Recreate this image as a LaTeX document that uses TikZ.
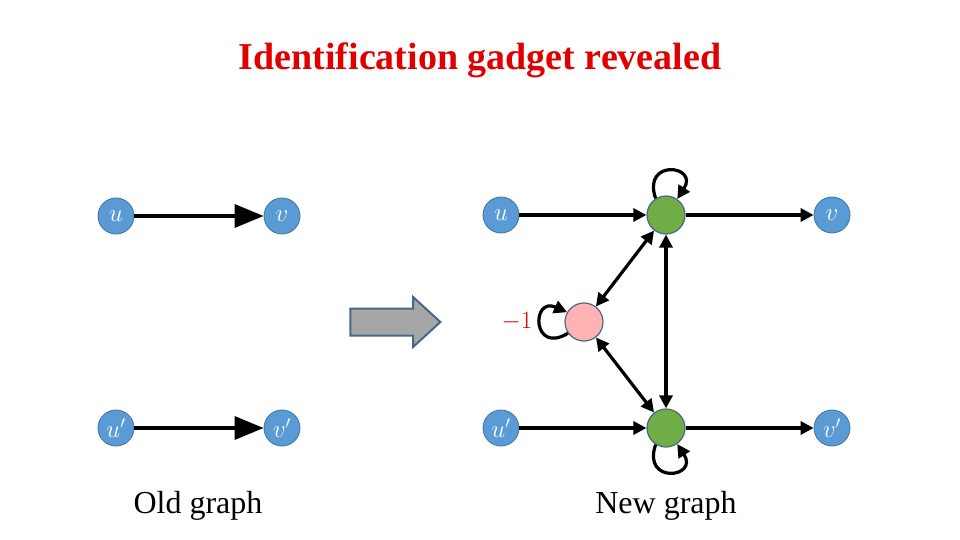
\documentclass[tikz,border=0pt]{standalone}
\usepackage{fontspec}
\setmainfont{Liberation Serif}
\usetikzlibrary{arrows.meta,shapes.arrows}
\definecolor{nblue}{HTML}{5B9BD5}
\definecolor{nbord}{HTML}{41719C}
\definecolor{ngreen}{HTML}{70AD47}
\definecolor{npink}{HTML}{FFB3B3}
\definecolor{titred}{HTML}{E00000}
\definecolor{abord}{HTML}{4A6685}
\begin{document}
\begin{tikzpicture}[x=1pt,y=-1pt,
  vnode/.style={circle,fill=nblue,draw=nbord,line width=0.8pt,minimum size=36pt,inner sep=0pt,text=white,font=\fontsize{24}{24}\selectfont},
  gnode/.style={circle,fill=ngreen,draw=abord,line width=1.2pt,minimum size=38pt,inner sep=0pt},
  pnode/.style={circle,fill=npink,draw=abord,line width=1.2pt,minimum size=38pt,inner sep=0pt},
  bigedge/.style={line width=3.5pt,-{Triangle[length=29pt,width=23pt]}},
  edge/.style={line width=3.2pt,-{Triangle[length=13pt,width=13pt]}},
  dedge/.style={line width=3.2pt,{Triangle[length=13pt,width=13pt]}-{Triangle[length=13pt,width=13pt]}},
  lbl/.style={font=\fontsize{32}{32}\selectfont}]
\useasboundingbox (0,0) rectangle (960,540);
\node[font=\bfseries\fontsize{38}{38}\selectfont,text=titred] (title) at (480,60) {Identification gadget revealed};
% old graph
\node[vnode] (ou) at (116,216) {$u$};
\node[vnode] (ov) at (282,216) {$v$};
\node[vnode] (ou2) at (116,428) {$u'$};
\node[vnode] (ov2) at (282,428) {$v'$};
\draw[bigedge] (ou) -- (ov);
\draw[bigedge] (ou2) -- (ov2);
\node[lbl] (oldl) at (198,506) {Old graph};
% big arrow
\node[single arrow,draw=abord,fill=gray!70,line width=2pt,minimum height=90pt,minimum width=48pt,single arrow head extend=11.5pt,single arrow tip angle=85,inner xsep=0pt,inner ysep=12.5pt] (arr) at (388,322) {};
% new graph
\node[vnode] (nu) at (501,215) {$u$};
\node[gnode] (g1) at (666,215) {};
\node[vnode] (nv) at (832,215) {$v$};
\node[pnode] (p) at (584,322) {};
\node[vnode] (nu2) at (501,428) {$u'$};
\node[gnode] (g2) at (666,428) {};
\node[vnode] (nv2) at (832,428) {$v'$};
\draw[edge] (nu) -- (g1);
\draw[edge] (g1) -- (nv);
\draw[edge] (nu2) -- (g2);
\draw[edge] (g2) -- (nv2);
\draw[dedge] (g1) -- (p);
\draw[dedge] (p) -- (g2);
\draw[dedge] (g1) -- (g2);
\draw[edge] (g1.122) .. controls +(-14,-40) and +(22,-34) .. (g1.55);
\draw[edge] (g2.238) .. controls +(-14,40) and +(22,34) .. (g2.305);
\draw[edge] (p.215) .. controls +(-36,22) and +(-36,-16) .. (p.150);
\node[text=titred,font=\fontsize{30}{30}\selectfont] (m1) at (517,322) {$-1$};
\node[lbl] (newl) at (666,506) {New graph};
\end{tikzpicture}
\end{document}
